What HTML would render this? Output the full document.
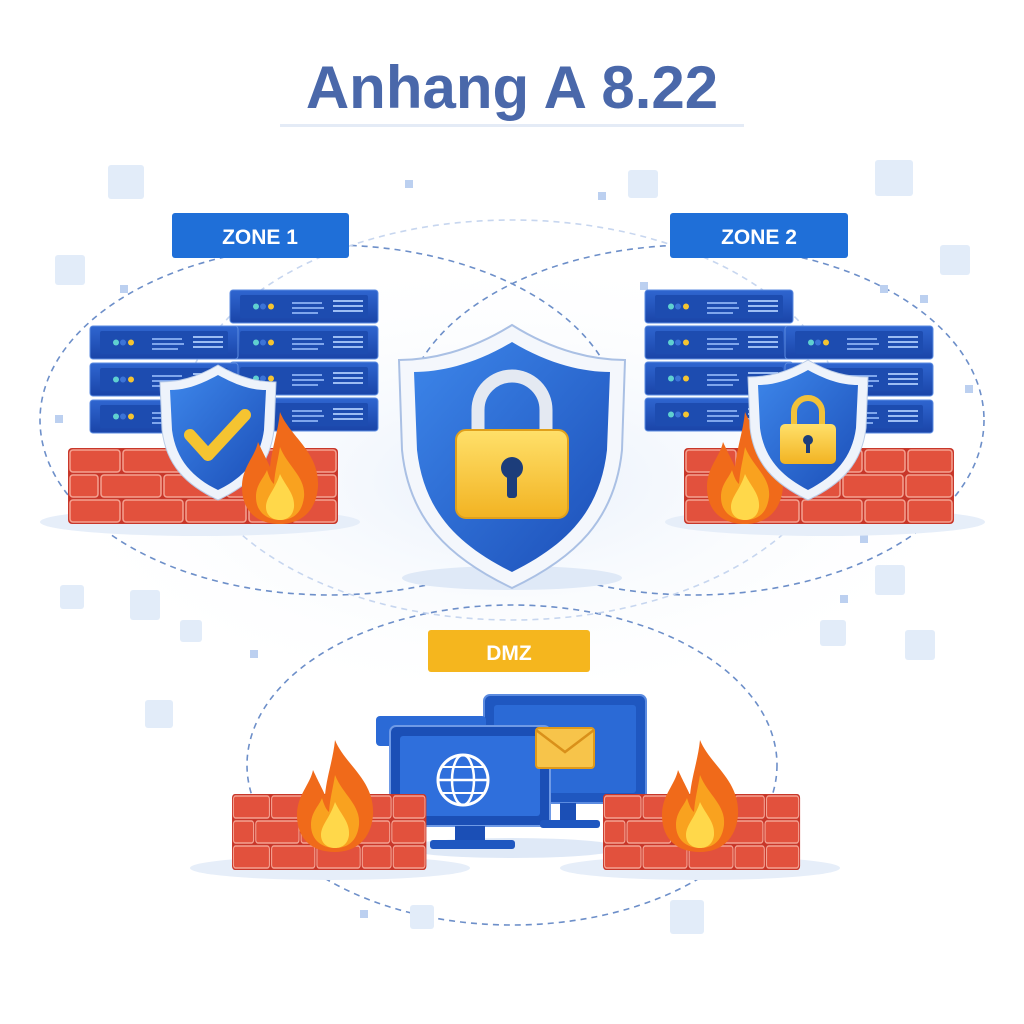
<!DOCTYPE html>
<html><head><meta charset="utf-8"><style>
html,body{margin:0;padding:0;background:#fff;width:1024px;height:1024px;overflow:hidden}
svg{display:block}
</style></head><body>
<svg width="1024" height="1024" viewBox="0 0 1024 1024" xmlns="http://www.w3.org/2000/svg">
<defs>
<linearGradient id="srv" x1="0" y1="0" x2="0" y2="1"><stop offset="0" stop-color="#2f66d0"/><stop offset="1" stop-color="#1a45a8"/></linearGradient>
<linearGradient id="sh" x1="0" y1="0" x2="1" y2="1"><stop offset="0" stop-color="#3d86ea"/><stop offset="1" stop-color="#1c4fb8"/></linearGradient>
<linearGradient id="lk" x1="0" y1="0" x2="0" y2="1"><stop offset="0" stop-color="#ffe06a"/><stop offset="1" stop-color="#f2b322"/></linearGradient>
<radialGradient id="glow" cx="0.5" cy="0.5" r="0.5"><stop offset="0" stop-color="#e8f0fb"/><stop offset="1" stop-color="#ffffff" stop-opacity="0"/></radialGradient>
<g id="unit">
<rect x="0" y="0" width="148" height="33" rx="3" fill="url(#srv)" stroke="#5b8be0" stroke-width="1"/>
<rect x="10" y="5" width="128" height="23" rx="2" fill="#1d4cb0"/>
<circle cx="26" cy="16.5" r="3" fill="#5fd0d0"/><circle cx="33" cy="16.5" r="3" fill="#3c74d8"/><circle cx="41" cy="16.5" r="3" fill="#f5c431"/>
<rect x="62" y="12" width="30" height="2" fill="#7fa6ec"/><rect x="62" y="17" width="32" height="2" fill="#7fa6ec"/><rect x="62" y="22" width="26" height="2" fill="#7fa6ec"/>
<rect x="103" y="10" width="30" height="2" fill="#9cbdf3"/><rect x="103" y="15" width="30" height="2" fill="#9cbdf3"/><rect x="103" y="20" width="30" height="2" fill="#9cbdf3"/>
</g>
<g id="wall">
<rect x="0" y="0" width="270" height="76" rx="4" fill="#c8372a"/>
<g fill="#e2513d" stroke="#f4a292" stroke-width="1.5">
<rect x="2" y="2" width="50" height="22" rx="3"/><rect x="55" y="2" width="60" height="22" rx="3"/><rect x="118" y="2" width="60" height="22" rx="3"/><rect x="181" y="2" width="40" height="22" rx="3"/><rect x="224" y="2" width="44" height="22" rx="3"/>
<rect x="2" y="27" width="28" height="22" rx="3"/><rect x="33" y="27" width="60" height="22" rx="3"/><rect x="96" y="27" width="60" height="22" rx="3"/><rect x="159" y="27" width="60" height="22" rx="3"/><rect x="222" y="27" width="46" height="22" rx="3"/>
<rect x="2" y="52" width="50" height="22" rx="3"/><rect x="55" y="52" width="60" height="22" rx="3"/><rect x="118" y="52" width="60" height="22" rx="3"/><rect x="181" y="52" width="40" height="22" rx="3"/><rect x="224" y="52" width="44" height="22" rx="3"/>
</g>
</g>
<g id="flame">
<path d="M40 0 C50 25 80 40 78 75 C76 100 60 112 40 112 C18 112 2 100 2 75 C2 55 15 45 18 30 C25 45 28 50 30 55 C32 35 38 20 40 0Z" fill="#f06a1a"/>
<path d="M40 35 C48 55 66 65 64 85 C62 102 52 108 40 108 C27 108 16 100 16 85 C16 72 24 66 27 58 C30 68 32 70 34 72 C35 58 38 48 40 35Z" fill="#f9a21f"/>
<path d="M40 62 C46 75 55 82 54 95 C53 104 47 108 40 108 C32 108 26 103 26 95 C26 85 35 78 40 62Z" fill="#ffd84a"/>
</g>
</defs>

<ellipse cx="512" cy="480" rx="480" ry="230" fill="url(#glow)"/>

<g fill="none" stroke="#6d8fc9" stroke-width="1.6" stroke-dasharray="6 5">
<ellipse cx="330" cy="420" rx="290" ry="175"/>
<ellipse cx="694" cy="420" rx="290" ry="175"/>
<ellipse cx="512" cy="765" rx="265" ry="160"/>
<ellipse cx="512" cy="420" rx="330" ry="200" stroke="#c7d6ef"/>
</g>

<g fill="#e2ecf9">
<rect x="108" y="165" width="36" height="34" rx="3"/><rect x="55" y="255" width="30" height="30" rx="3"/><rect x="628" y="170" width="30" height="28" rx="3"/><rect x="875" y="160" width="38" height="36" rx="3"/><rect x="940" y="245" width="30" height="30" rx="3"/>
<rect x="875" y="565" width="30" height="30" rx="3"/><rect x="905" y="630" width="30" height="30" rx="3"/><rect x="130" y="590" width="30" height="30" rx="3"/><rect x="145" y="700" width="28" height="28" rx="3"/><rect x="670" y="900" width="34" height="34" rx="3"/><rect x="410" y="905" width="24" height="24" rx="3"/><rect x="820" y="620" width="26" height="26" rx="3"/><rect x="180" y="620" width="22" height="22" rx="3"/><rect x="60" y="585" width="24" height="24" rx="3"/>
</g>
<g fill="#bcd0f0">
<rect x="405" y="180" width="8" height="8"/><rect x="598" y="192" width="8" height="8"/><rect x="120" y="285" width="8" height="8"/><rect x="880" y="285" width="8" height="8"/><rect x="920" y="295" width="8" height="8"/><rect x="640" y="282" width="8" height="8"/><rect x="840" y="595" width="8" height="8"/><rect x="360" y="910" width="8" height="8"/><rect x="250" y="650" width="8" height="8"/><rect x="860" y="535" width="8" height="8"/><rect x="965" y="385" width="8" height="8"/><rect x="55" y="415" width="8" height="8"/>
</g>

<text x="512" y="108" text-anchor="middle" font-family="Liberation Sans, sans-serif" font-weight="bold" font-size="60" fill="#4a68aa">Anhang A 8.22</text>
<rect x="280" y="124" width="464" height="3" fill="#e4ebf6"/>

<rect x="172" y="213" width="177" height="45" rx="3" fill="#1f6fd8"/>
<text x="260" y="244" text-anchor="middle" font-family="Liberation Sans, sans-serif" font-weight="bold" font-size="21" fill="#fff">ZONE 1</text>
<rect x="670" y="213" width="178" height="45" rx="3" fill="#1f6fd8"/>
<text x="759" y="244" text-anchor="middle" font-family="Liberation Sans, sans-serif" font-weight="bold" font-size="21" fill="#fff">ZONE 2</text>

<ellipse cx="200" cy="522" rx="160" ry="14" fill="#e6eef9"/>
<use href="#unit" x="230" y="290"/><use href="#unit" x="230" y="326"/><use href="#unit" x="230" y="362"/><use href="#unit" x="230" y="398"/>
<use href="#unit" x="90" y="326"/><use href="#unit" x="90" y="363"/><use href="#unit" x="90" y="400"/>
<use href="#wall" x="68" y="448"/>
<path d="M218 365 C240 378 258 382 276 382 L274 430 C270 465 250 485 218 500 C186 485 166 465 162 430 L160 382 C178 382 196 378 218 365Z" fill="#eef3fb" stroke="#b9cbe7" stroke-width="1"/>
<path d="M218 375 C238 386 252 390 266 390 L264 430 C260 460 243 478 218 490 C193 478 176 460 172 430 L170 390 C184 390 198 386 218 375Z" fill="url(#sh)"/>
<path d="M190 435 L208 455 L245 415" fill="none" stroke="#f5c431" stroke-width="12" stroke-linecap="round" stroke-linejoin="round"/>
<use href="#flame" x="240" y="412"/>

<ellipse cx="825" cy="522" rx="160" ry="14" fill="#e6eef9"/>
<use href="#unit" x="645" y="290"/><use href="#unit" x="645" y="326"/><use href="#unit" x="645" y="362"/><use href="#unit" x="645" y="398"/>
<use href="#unit" x="785" y="326"/><use href="#unit" x="785" y="363"/><use href="#unit" x="785" y="400"/>
<use href="#wall" x="684" y="448"/>
<use href="#flame" x="705" y="412"/>
<path d="M808 360 C830 373 848 377 868 377 L866 428 C862 463 842 484 808 500 C774 484 754 463 750 428 L748 377 C768 377 786 373 808 360Z" fill="#eef3fb" stroke="#b9cbe7"/>
<path d="M808 370 C828 381 843 385 858 385 L856 428 C852 458 835 476 808 490 C781 476 764 458 760 428 L758 385 C773 385 788 381 808 370Z" fill="url(#sh)"/>
<path d="M794 425 L794 412 A14 14 0 0 1 822 412 L822 425" fill="none" stroke="#f2c23a" stroke-width="6"/>
<rect x="780" y="424" width="56" height="40" rx="5" fill="url(#lk)"/>
<circle cx="808" cy="440" r="5" fill="#1c3d7a"/><rect x="806" y="441" width="4" height="12" fill="#1c3d7a"/>

<ellipse cx="512" cy="578" rx="110" ry="12" fill="#dfe9f7"/>
<path d="M512 325 C555 352 595 360 625 360 L622 450 C615 520 575 558 512 588 C449 558 409 520 402 450 L399 360 C429 360 469 352 512 325Z" fill="#f4f7fc" stroke="#aac0e4" stroke-width="2"/>
<path d="M512 342 C550 365 585 372 610 372 L607 450 C600 512 566 545 512 572 C458 545 424 512 417 450 L414 372 C439 372 474 365 512 342Z" fill="url(#sh)"/>
<path d="M478 435 L478 410 A34 34 0 0 1 546 410 L546 435" fill="none" stroke="#e4e9f2" stroke-width="13"/>
<rect x="456" y="430" width="112" height="88" rx="10" fill="url(#lk)" stroke="#e0a01c" stroke-width="2"/>
<circle cx="512" cy="468" r="11" fill="#1c3d7a"/><rect x="507" y="470" width="10" height="28" rx="3" fill="#1c3d7a"/>

<rect x="428" y="630" width="162" height="42" rx="3" fill="#f5b61e"/>
<text x="509" y="660" text-anchor="middle" font-family="Liberation Sans, sans-serif" font-weight="bold" font-size="21" fill="#fff">DMZ</text>

<ellipse cx="330" cy="868" rx="140" ry="12" fill="#e6eef9"/>
<ellipse cx="700" cy="868" rx="140" ry="12" fill="#e6eef9"/>
<ellipse cx="512" cy="848" rx="110" ry="10" fill="#dfe9f7"/>
<rect x="484" y="695" width="162" height="108" rx="6" fill="#1f57c0" stroke="#5b8be0" stroke-width="2"/>
<rect x="494" y="705" width="142" height="88" rx="3" fill="#2b6ad6"/>
<rect x="376" y="716" width="110" height="30" rx="4" fill="#2b6ad6"/>
<rect x="390" y="726" width="160" height="100" rx="6" fill="#1b4fb6" stroke="#6f9ae6" stroke-width="2"/>
<rect x="400" y="736" width="140" height="80" rx="3" fill="#2f6fdc"/>
<rect x="455" y="826" width="30" height="16" fill="#1b4fb6"/>
<rect x="430" y="840" width="85" height="9" rx="3" fill="#1f57c0"/>
<rect x="560" y="803" width="16" height="20" fill="#1b4fb6"/>
<rect x="540" y="820" width="60" height="8" rx="3" fill="#1f57c0"/>
<circle cx="463" cy="780" r="25" fill="none" stroke="#fff" stroke-width="3"/>
<ellipse cx="463" cy="780" rx="11" ry="25" fill="none" stroke="#fff" stroke-width="2.5"/>
<line x1="438" y1="780" x2="488" y2="780" stroke="#fff" stroke-width="2.5"/>
<path d="M443 767 H483 M443 793 H483" stroke="#fff" stroke-width="2"/>
<rect x="536" y="728" width="58" height="40" rx="3" fill="#f7c44a" stroke="#e09a1a" stroke-width="2"/>
<path d="M536 730 L565 752 L594 730" fill="none" stroke="#d9901a" stroke-width="2.5"/>

<use href="#wall" x="232" y="794" transform="translate(232,794) scale(0.72,1) translate(-232,-794)"/>
<use href="#flame" x="295" y="740"/>
<use href="#wall" x="603" y="794" transform="translate(603,794) scale(0.73,1) translate(-603,-794)"/>
<use href="#flame" x="660" y="740"/>
</svg>
</body></html>
